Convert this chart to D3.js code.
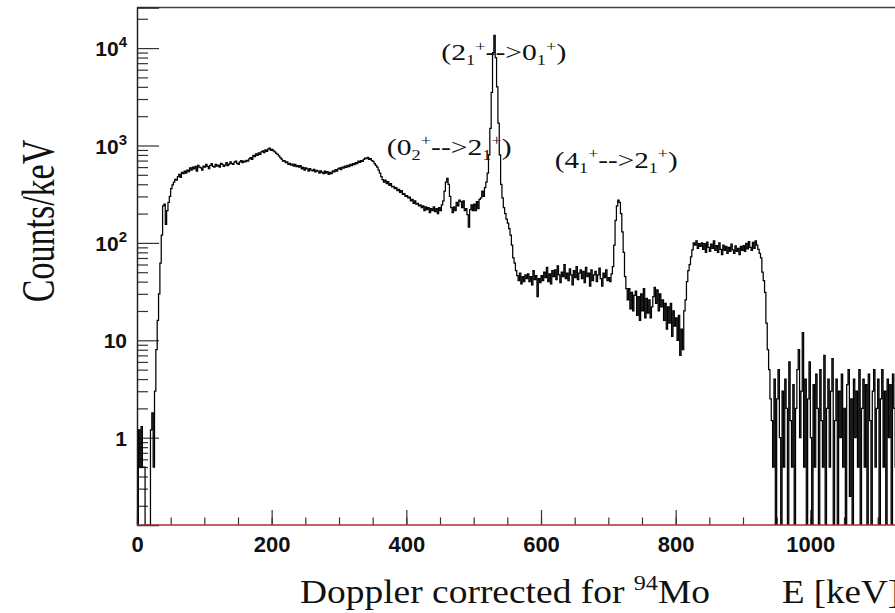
<!DOCTYPE html>
<html lang="en">
<head>
<meta charset="utf-8">
<title>Doppler corrected spectrum, 94Mo</title>
<script src="https://cdn.jsdelivr.net/npm/d3@7"></script>
<style>
  body { margin: 0; background: #fff; }
  .tick text { font-family: "Liberation Sans", Arial, Helvetica, sans-serif; font-weight: bold; fill: #111; }
  .serif { font-family: "Liberation Serif", "Times New Roman", Times, serif; fill: #111; }
</style>
</head>
<body>
<script>

// spectrum, 2 keV bins starting at 0 keV (counts/keV)
var binWidth = 2;
var counts = [
  0, 1.2, 0.5, 1.3, 0.5, 0.5, 0, 0, 0, 0,
  1.2, 1.8, 0.5, 3, 8, 16, 30, 62, 120, 240,
  250, 155, 215, 260, 300, 360, 395, 420, 450, 440,
  480, 505, 470, 530, 515, 545, 520, 560, 540, 590,
  560, 600, 575, 610, 545, 625, 600, 590, 560, 615,
  600, 640, 610, 580, 625, 650, 610, 600, 640, 615,
  630, 600, 655, 640, 610, 630, 665, 620, 645, 680,
  650, 640, 675, 690, 655, 640, 680, 700, 665, 690,
  680, 705, 690, 730, 750, 720, 790, 770, 820, 790,
  840, 810, 860, 880, 845, 900, 870, 915, 940, 890,
  910, 880, 860, 830, 810, 780, 750, 725, 690, 700,
  665, 680, 640, 655, 630, 645, 615, 640, 605, 620,
  600, 620, 575, 595, 560, 590, 575, 545, 580, 560,
  550, 570, 535, 555, 545, 520, 550, 530, 515, 545,
  520, 540, 505, 530, 515, 550, 535, 565, 545, 575,
  590, 565, 600, 585, 615, 595, 625, 605, 640, 620,
  650, 635, 665, 650, 690, 670, 700, 685, 720, 740,
  735, 755, 720, 735, 700, 685, 650, 625, 600, 560,
  520, 480, 445, 420, 440, 405, 425, 390, 405, 375,
  380, 360, 370, 345, 355, 330, 345, 315, 320, 300,
  305, 290, 295, 270, 280, 255, 270, 250, 255, 240,
  245, 230, 240, 215, 235, 220, 230, 205, 225, 215,
  235, 210, 225, 200, 230, 215, 245, 270, 340, 420,
  460, 400, 300, 230, 205, 235, 215, 260, 240, 275,
  265, 230, 270, 215, 225, 195, 145, 220, 245, 215,
  250, 215, 265, 225, 280, 290, 340, 300, 370, 420,
  520, 800, 1500, 3500, 9000, 13500, 8000, 4000, 1700, 800,
  400, 290, 230, 200, 175, 160, 140, 120, 95, 70,
  62, 52, 46, 41, 49, 38, 45, 40, 47, 43,
  48, 40, 45, 37, 52, 42, 46, 28, 43, 39,
  46, 41, 50, 44, 56, 40, 48, 38, 52, 45,
  53, 42, 58, 47, 39, 50, 45, 60, 43, 49,
  41, 54, 47, 37, 52, 44, 57, 42, 49, 53,
  43, 51, 39, 56, 45, 49, 36, 53, 41, 47,
  51, 40, 47, 55, 43, 36, 49, 44, 53, 41,
  44, 40, 48, 57, 95, 170, 240, 275, 260, 200,
  130, 80, 45, 34, 26, 34, 21, 31, 20, 29,
  32, 18, 28, 16, 30, 20, 34, 17, 27, 19,
  26, 17, 22, 28, 35, 24, 33, 20, 30, 22,
  26, 16, 24, 13, 22, 15, 24, 11, 20, 14,
  17, 10, 18, 7, 13, 8, 20, 26, 40, 52,
  60, 72, 85, 100, 95, 105, 88, 98, 92, 100,
  86, 98, 80, 102, 90, 82, 97, 88, 105, 84,
  94, 80, 100, 86, 76, 95, 84, 92, 78, 90,
  82, 97, 85, 78, 93, 82, 88, 76, 92, 84,
  94, 82, 99, 87, 103, 90, 84, 101, 88, 105,
  95, 86, 78, 70, 50, 41, 31, 15, 8, 5,
  2.5, 1.5, 0.5, 4, 0, 2.5, 5, 1, 0, 3,
  0.5, 4, 2, 0, 6, 1.5, 0.5, 3.5, 0, 2,
  5, 8, 1, 3, 12, 0.5, 4, 0, 2.5, 6,
  1, 0, 3.5, 0.5, 4.5, 2, 0, 5, 1.5, 0.5,
  7, 0, 2, 4, 0.5, 3, 6.5, 0, 1.5, 4,
  0, 3, 1, 4.5, 0.5, 2, 0, 3.5, 5, 0.25,
  2.5, 0, 4, 1, 3, 0.5, 5, 0, 2, 4,
  0.5, 3.5, 0, 4.5, 1.5, 0, 3, 5, 0.5, 2,
  4, 0, 2.5, 5, 0.5, 3, 0, 4, 1, 3.5,
  0, 4.5, 2, 0.5, 3, 0, 5, 1.5, 3, 0
];

var xMajorTicks = [0, 200, 400, 600, 800, 1000];
var xMinorTicks = d3.range(0, 1201, 50);
var yMajorTicks = [1, 10, 100, 1000, 10000];
var yTickBase = ["1", "10", "10", "10", "10"];
var yTickExp = ["", "", "2", "3", "4"];

// transition labels: [text, "b"ase / "sub" / "sup"]
var peakLabels = [
  {e: 452, v: 7470, w: 125, parts: [["(2", "b"], ["1", "sub"], ["+", "sup"], ["-->0", "b"], ["1", "sub"], ["+", "sup"], [")", "b"]]},
  {e: 371, v: 800, w: 125, parts: [["(0", "b"], ["2", "sub"], ["+", "sup"], ["-->2", "b"], ["1", "sub"], ["+", "sup"], [")", "b"]]},
  {e: 620.5, v: 590, w: 123, parts: [["(4", "b"], ["1", "sub"], ["+", "sup"], ["-->2", "b"], ["1", "sub"], ["+", "sup"], [")", "b"]]}
];

var outerWidth = 895, outerHeight = 613;
var frame = {left: 137, top: 7.5, bottom: 525, right: 945};
var yMin = 0.127, yMax = 26100;

var x = d3.scaleLinear().domain([0, 1200]).range([frame.left, frame.right]);
var y = d3.scaleLog().domain([yMin, yMax]).range([frame.bottom, frame.top]);

var svg = d3.select("body").append("svg")
  .attr("width", outerWidth)
  .attr("height", outerHeight);

svg.append("defs").append("clipPath").attr("id", "plotclip")
  .append("rect")
  .attr("x", frame.left).attr("y", frame.top)
  .attr("width", frame.right - frame.left).attr("height", frame.bottom - frame.top);

// frame top edge
svg.append("line")
  .attr("x1", frame.left).attr("x2", frame.right)
  .attr("y1", frame.top).attr("y2", frame.top)
  .attr("stroke", "#444").attr("stroke-width", 1.5);

// y minor ticks
var yMinor = [];
for (var d = -1; d <= 4; d++) {
  for (var k = 2; k <= 9; k++) {
    var v = k * Math.pow(10, d);
    if (v > yMin && v < yMax) yMinor.push(v);
  }
}
svg.append("g")
  .attr("transform", "translate(" + frame.left + ",0)")
  .call(d3.axisLeft(y).tickValues(yMinor).tickSize(-11).tickFormat(""))
  .call(g => g.select(".domain").remove())
  .call(g => g.selectAll("line").attr("stroke", "#333").attr("stroke-width", 1.2));

var yAxis = svg.append("g")
  .attr("transform", "translate(" + frame.left + ",0)")
  .call(d3.axisLeft(y).tickValues(yMajorTicks).tickSize(-22).tickPadding(10))
  .call(g => g.select(".domain").attr("stroke", "#222").attr("stroke-width", 1.5))
  .call(g => g.selectAll("line").attr("stroke", "#333").attr("stroke-width", 1.2));

yAxis.selectAll(".tick text")
  .attr("font-size", 21)
  .attr("dy", "0.36em")
  .each(function(dv, i) {
    var t = d3.select(this).text("");
    t.append("tspan").text(yTickBase[i]);
    if (yTickExp[i]) t.append("tspan").attr("dy", -9).attr("font-size", 15).text(yTickExp[i]);
  });

// x ticks
svg.append("g")
  .attr("transform", "translate(0," + frame.bottom + ")")
  .call(d3.axisBottom(x).tickValues(xMinorTicks).tickSize(-7.5).tickFormat(""))
  .call(g => g.select(".domain").remove())
  .call(g => g.selectAll("line").attr("stroke", "#333").attr("stroke-width", 1.2));

svg.append("g")
  .attr("transform", "translate(0," + frame.bottom + ")")
  .call(d3.axisBottom(x).tickValues(xMajorTicks).tickSize(-15).tickPadding(11).tickFormat(d3.format("d")))
  .call(g => g.select(".domain").remove())
  .call(g => g.selectAll("line").attr("stroke", "#333").attr("stroke-width", 1.2))
  .call(g => g.selectAll("text").attr("font-size", 22));

// histogram as step line
var pts = [];
counts.forEach(function(c, i) {
  var yy = y(Math.max(c, yMin));
  pts.push([x(i * binWidth), yy], [x((i + 1) * binWidth), yy]);
});

svg.append("path")
  .attr("clip-path", "url(#plotclip)")
  .attr("d", d3.line()(pts))
  .attr("fill", "none")
  .attr("stroke", "#000")
  .attr("stroke-width", 1.25);

// bottom line (red)
svg.append("line")
  .attr("x1", frame.left).attr("x2", frame.right)
  .attr("y1", frame.bottom).attr("y2", frame.bottom)
  .attr("stroke", "#b0283a").attr("stroke-width", 1.6);

// peak labels
peakLabels.forEach(function(p) {
  var size = 23;
  var t = svg.append("text").attr("class", "serif").attr("font-size", size);
  var cur = 0;
  p.parts.forEach(function(part) {
    var off = part[1] == "sub" ? 0.22 * size : part[1] == "sup" ? -0.42 * size : 0;
    t.append("tspan")
      .attr("dy", off - cur)
      .attr("font-size", part[1] == "b" ? size : 0.62 * size)
      .text(part[0]);
    cur = off;
  });
  var bw = t.node().getBBox().width;
  t.attr("transform", "translate(" + x(p.e) + "," + y(p.v) + ") scale(" + (p.w / bw) + ",1)");
});

// axis titles
svg.append("text")
  .attr("class", "serif")
  .attr("font-size", 34)
  .attr("text-anchor", "middle")
  .attr("transform", "translate(54,221) rotate(-90) scale(1,1.35)")
  .text("Counts/keV");

var xt = svg.append("text")
  .attr("class", "serif")
  .attr("font-size", 34)
  .attr("x", 300)
  .attr("y", 603);
xt.append("tspan").text("Doppler corrected for ");
xt.append("tspan").attr("font-size", 22).attr("dy", -13).text("94");
xt.append("tspan").attr("dy", 13).text("Mo");
xt.attr("textLength", 410).attr("lengthAdjust", "spacingAndGlyphs");

svg.append("text")
  .attr("class", "serif")
  .attr("font-size", 34)
  .attr("x", 782)
  .attr("y", 603)
  .attr("textLength", 118)
  .attr("lengthAdjust", "spacingAndGlyphs")
  .text("E [keV]");

</script>
</body>
</html>
